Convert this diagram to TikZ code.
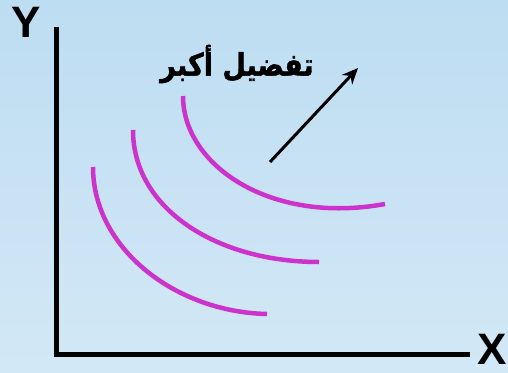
\documentclass[tikz,border=0pt]{standalone}
\usepackage{fontspec}
\setmainfont{Liberation Sans}
\newfontfamily\arabicfont[Script=Arabic, FakeBold=1.5]{DejaVu Sans}
\TeXXeTstate=1
\usetikzlibrary{arrows.meta}
\definecolor{curvecol}{RGB}{204,51,204}
\definecolor{bgtop}{RGB}{189,221,242}
\definecolor{bgbottom}{RGB}{211,232,246}
\begin{document}
\begin{tikzpicture}[x=1pt, y=-1pt, >={Stealth[length=16pt, width=14pt]},
    axis/.style={line width=5pt},
    curve/.style={draw=curvecol, line width=4.5pt},
    lbl/.style={font=\bfseries\fontsize{44}{44}\selectfont, inner sep=0pt}]
    \shade[top color=bgtop, bottom color=bgbottom] (0,0) rectangle (508,372);
    \useasboundingbox (0,0) rectangle (508,372);
    % axes
    \coordinate (O) at (56,354);
    \coordinate (ytop) at (56,27);
    \coordinate (xend) at (470,354);
    \draw[axis] (ytop) -- (O) -- (xend);
    \node[lbl] (ylab) at (26,22.5) {Y};
    \node[lbl] (xlab) at (492,349) {X};
    % indifference curves
    \draw[curve] (93,167) .. controls (93,248) and (175,312) .. (267,314);
    \draw[curve] (133,130) .. controls (133,209) and (217,262) .. (319,262);
    \draw[curve] (183,96) .. controls (183,165) and (270,225) .. (385,204);
    % direction of preference
    \node[font=\arabicfont\bfseries\fontsize{27}{27}\selectfont, inner sep=0pt, yscale=1.15] (pref) at (237,64) {\beginR تفضيل أكبر\endR};
    \coordinate (tail) at (270,162);
    \coordinate (tip) at (358,68);
    \draw[->, line width=3pt] (tail) -- (tip);
\end{tikzpicture}
\end{document}
